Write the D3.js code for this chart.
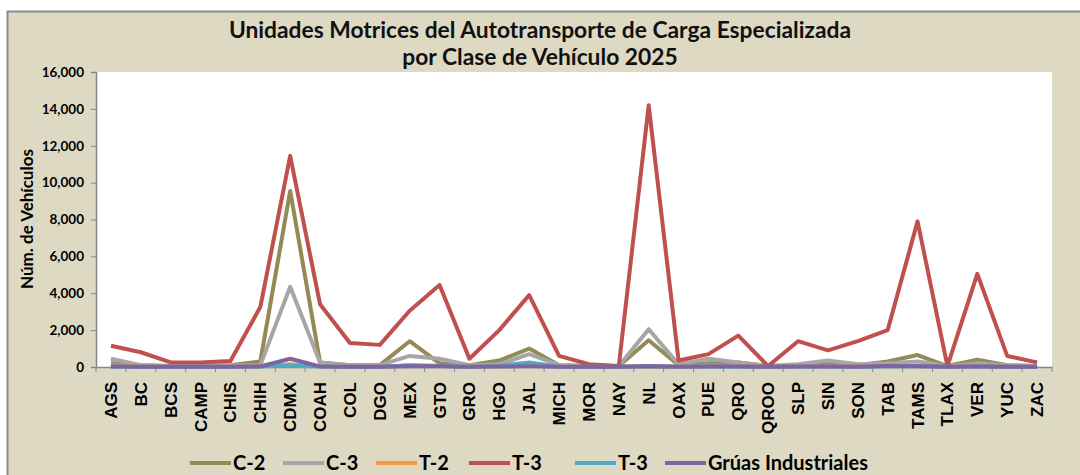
<!DOCTYPE html>
<html>
<head>
<meta charset="utf-8">
<script src="https://cdn.jsdelivr.net/npm/d3@7"></script>
<style>
  body { margin: 0; background: #fff; }
  svg { display: block; font-family: Lato, "Open Sans", sans-serif; }
</style>
</head>
<body>
<div id="chart-area"></div>
<script>
// Datos por entidad
var estados = ["AGS","BC","BCS","CAMP","CHIS","CHIH","CDMX","COAH","COL","DGO","MEX","GTO","GRO","HGO","JAL","MICH",
    "MOR","NAY","NL","OAX","PUE","QRO","QROO","SLP","SIN","SON","TAB","TAMS","TLAX","VER","YUC","ZAC"];

var c2 =    [200,100,50,50,100,300,9550,250,100,100,1400,200,100,350,1000,100,50,50,1450,100,200,250,50,100,150,100,300,650,50,400,100,50];
var c3 =    [450,100,50,50,80,100,4350,250,100,100,600,450,100,150,700,100,50,50,2050,150,450,250,50,150,350,150,200,300,50,200,100,50];
var t2 =    [100,30,20,20,30,40,150,40,20,20,80,60,20,40,120,30,20,10,60,20,80,60,10,40,60,40,50,60,10,50,20,10];
var t3 =    [1150,800,250,250,330,3250,11450,3400,1300,1200,3050,4450,450,2000,3900,600,150,50,14200,350,700,1700,50,1400,900,1400,2000,7900,50,5050,600,250];
var t3b =   [30,20,10,10,20,30,80,30,10,10,100,60,10,60,250,20,10,10,50,10,40,30,10,30,30,20,40,50,10,40,20,10];
var gruas = [30,20,10,10,20,30,450,30,10,10,40,40,10,30,40,20,10,10,40,10,30,30,10,30,30,20,60,40,10,30,20,10];

var yTicks = [0,2000,4000,6000,8000,10000,12000,14000,16000];

var series = [
    { name: "C-2", values: c2, color: "#948A54" },
    { name: "C-3", values: c3, color: "#A6A6A6" },
    { name: "T-2", values: t2, color: "#F79646" },
    { name: "T-3", values: t3, color: "#C0504D" },
    { name: "T-3", values: t3b, color: "#4BACC6" },
    { name: "Grúas Industriales", values: gruas, color: "#8064A2" }
];

var W = 1080, H = 475;
var margin = { left: 96, right: 28, top: 72, bottom: 108 },
    width = W - margin.left - margin.right,
    height = H - margin.top - margin.bottom;

var svg = d3.select("#chart-area").append("svg")
    .attr("width", W)
    .attr("height", H);

// fondo y borde
svg.append("rect")
    .attr("x", 7.5).attr("y", 11.5)
    .attr("width", W + 20).attr("height", H + 20)
    .attr("fill", "#DDD9C3")
    .attr("stroke", "#8c8c8c")
    .attr("stroke-width", 2);

// titulo
var title = svg.append("text")
    .attr("x", 540)
    .attr("text-anchor", "middle")
    .attr("font-size", "22.8px")
    .attr("font-weight", "bold")
    .attr("fill", "#111");
title.append("tspan").attr("x", 540).attr("y", 38).text("Unidades Motrices del Autotransporte de Carga Especializada");
title.append("tspan").attr("x", 540).attr("y", 65).text("por Clase de Vehículo 2025");

var g = svg.append("g")
    .attr("transform", "translate(" + margin.left + "," + margin.top + ")");

g.append("rect")
    .attr("width", width)
    .attr("height", height)
    .attr("fill", "#fff");

// Scales
var x = d3.scaleBand().domain(estados).range([0, width]);
var y = d3.scaleLinear().domain([0, 16000]).range([height, 0]);

// ejes
var yAxis = g.append("g")
    .attr("class", "y axis")
    .call(d3.axisLeft(y).tickValues(yTicks).tickSizeOuter(0).tickSize(5).tickPadding(7)
        .tickFormat(d3.format(",")));
yAxis.selectAll("text")
    .attr("font-size", "13.5px")
    .attr("font-weight", "bold")
    .attr("fill", "#000")
    .attr("font-family", "Lato, sans-serif");

var xAxis = g.append("g")
    .attr("class", "x axis")
    .attr("transform", "translate(0," + height + ")")
    .call(d3.axisBottom(x).tickSize(0).tickSizeOuter(0).tickFormat(""));

// marcas entre categorias
var bounds = estados.map(function(d) { return x(d); }).concat([width]);
xAxis.selectAll(".sep")
    .data(bounds)
    .enter().append("line")
    .attr("class", "sep")
    .attr("x1", function(d) { return d; })
    .attr("x2", function(d) { return d; })
    .attr("y1", 0).attr("y2", 5)
    .attr("stroke", "#868686");

xAxis.selectAll(".lbl")
    .data(estados)
    .enter().append("text")
    .attr("class", "lbl")
    .attr("transform", function(d) {
        return "translate(" + (x(d) + x.bandwidth() / 2 + 6) + ",15) rotate(-90)";
    })
    .attr("text-anchor", "end")
    .attr("font-size", "17px")
    .attr("font-weight", "bold")
    .attr("fill", "#000")
    .text(function(d) { return d; });

svg.selectAll(".axis path, .axis line").attr("stroke", "#868686");
svg.selectAll(".axis .domain").attr("stroke", "#868686").attr("stroke-width", 1.5);

// y label
svg.append("text")
    .attr("transform", "translate(33,219) rotate(-90)")
    .attr("text-anchor", "middle")
    .attr("font-size", "17px")
    .attr("font-weight", "bold")
    .attr("fill", "#000")
    .text("Núm. de Vehículos");

// lineas
var line = d3.line()
    .x(function(d, i) { return x(estados[i]) + x.bandwidth() / 2; })
    .y(function(d) { return y(d); });

series.forEach(function(s) {
    g.append("path")
        .attr("class", "line")
        .attr("fill", "none")
        .attr("stroke", s.color)
        .attr("stroke-width", 4)
        .attr("stroke-linejoin", "round")
        .attr("d", line(s.values));
});

// leyenda
var legX = [190, 283, 376, 469, 575, 665];
var legend = svg.append("g").attr("transform", "translate(0,463)");
series.forEach(function(s, i) {
    legend.append("line")
        .attr("x1", legX[i]).attr("x2", legX[i] + 41)
        .attr("y1", 0).attr("y2", 0)
        .attr("stroke", s.color)
        .attr("stroke-width", 4);
    legend.append("text")
        .attr("x", legX[i] + 43)
        .attr("y", 7)
        .attr("font-size", "20px")
        .attr("font-weight", "bold")
        .attr("fill", "#000")
        .text(s.name);
});
</script>
</body>
</html>
